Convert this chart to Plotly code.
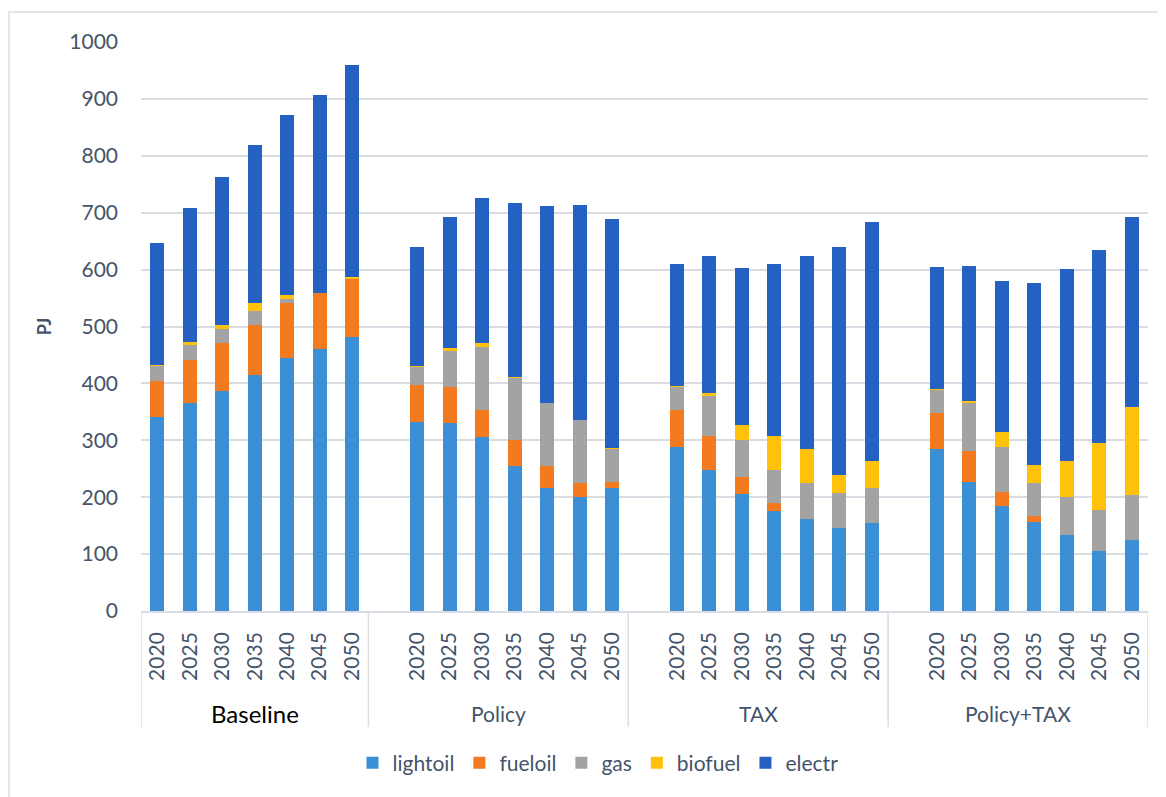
import plotly.graph_objects as go

scenarios = ["Baseline", "Policy", "TAX", "Policy+TAX"]
years = ["2020", "2025", "2030", "2035", "2040", "2045", "2050"]

# values (PJ) per scenario, per year
lightoil = {
    "Baseline":   [341, 366, 387, 414, 445, 460, 482],
    "Policy":     [333, 330, 306, 255, 217, 200, 217],
    "TAX":        [288, 248, 206, 176, 162, 146, 155],
    "Policy+TAX": [285, 227, 185, 157, 134, 105, 125],
}
fueloil = {
    "Baseline":   [64, 76, 84, 88, 96, 99, 102],
    "Policy":     [64, 64, 48, 46, 38, 25, 10],
    "TAX":        [66, 60, 30, 14, 0, 0, 0],
    "Policy+TAX": [63, 54, 25, 10, 0, 0, 0],
}
gas = {
    "Baseline":   [27, 26, 25, 25, 7, 0, 0],
    "Policy":     [32, 63, 110, 109, 111, 111, 58],
    "TAX":        [41, 70, 65, 58, 63, 62, 62],
    "Policy+TAX": [42, 85, 78, 58, 66, 73, 79],
}
biofuel = {
    "Baseline":   [1, 4, 7, 14, 8, 0, 3],
    "Policy":     [1, 6, 7, 2, 0, 0, 2],
    "TAX":        [1, 5, 26, 60, 60, 31, 46],
    "Policy+TAX": [1, 3, 27, 32, 63, 117, 155],
}
electr = {
    "Baseline":   [213, 237, 259, 278, 316, 347, 372],
    "Policy":     [210, 229, 255, 305, 346, 378, 402],
    "TAX":        [214, 241, 276, 302, 339, 401, 421],
    "Policy+TAX": [214, 237, 265, 320, 338, 339, 333],
}

series = [
    ("lightoil", lightoil, "#3b8fd5"),
    ("fueloil", fueloil, "#f47a1f"),
    ("gas", gas, "#a3a3a3"),
    ("biofuel", biofuel, "#ffc10a"),
    ("electr", electr, "#2461c2"),
]

# slot positions: every group after the first starts with one empty slot
positions, ticklabels = [], []
group_bounds = []  # (start, end) slot edges per group
pos = 0
for gi, sc in enumerate(scenarios):
    start = pos - 0.5
    if gi > 0:
        pos += 1
    for y in years:
        positions.append(pos)
        ticklabels.append(y)
        pos += 1
    group_bounds.append((start, pos - 0.5))

fig = go.Figure()
for name, d, col in series:
    vals = []
    for sc in scenarios:
        vals.extend(d[sc])
    fig.add_trace(go.Bar(x=positions, y=vals, name=name,
                         marker=dict(color=col, line=dict(width=0))))

font_family = "Lato, 'Open Sans', sans-serif"
txt = "#44546a"
line_col = "#d9dde3"

div_bottom = -0.204
label_y = -0.181

shapes = []
edges = sorted(set([b for gb in group_bounds for b in gb]))
for e in edges:
    shapes.append(dict(type="line", xref="x", yref="paper", x0=e, x1=e, y0=0, y1=div_bottom,
                       line=dict(color=line_col, width=1.5)))
# chart-area border
shapes.append(dict(type="rect", xref="paper", yref="paper", x0=-0.1311, x1=1.03, y0=-0.34, y1=1.0527,
                   line=dict(color=line_col, width=1.5), fillcolor="rgba(0,0,0,0)", layer="below"))

annotations = []
for sc, (a, b) in zip(scenarios, group_bounds):
    is_base = sc == "Baseline"
    annotations.append(dict(x=(a + b) / 2, y=label_y, xref="x", yref="paper", text=sc,
                            showarrow=False, xanchor="center", yanchor="middle",
                            font=dict(size=24 if is_base else 21, color="#000000" if is_base else txt,
                                      family=font_family)))

# the page places the figure 8px from the window's top-left corner
fig.update_layout(
    barmode="stack",
    bargap=0.57,
    width=1158, height=789,
    paper_bgcolor="white", plot_bgcolor="white",
    margin=dict(l=133, r=18, t=34, b=186),
    font=dict(family=font_family, color=txt, size=21),
    legend=dict(orientation="h", xref="container", yref="container", x=0.5095, y=0.043,
                xanchor="center", yanchor="middle", font=dict(size=21, color=txt),
                traceorder="normal", itemwidth=30),
    shapes=shapes,
    annotations=annotations,
)
fig.update_xaxes(
    range=[group_bounds[0][0], group_bounds[-1][1]],
    tickmode="array", tickvals=positions, ticktext=ticklabels,
    tickangle=-90,
    tickfont=dict(size=21, color=txt),
    ticklabelstandoff=11,
    showline=True, linecolor=line_col, linewidth=1.5,
    showgrid=False, zeroline=False, ticks="",
)
fig.update_yaxes(
    range=[0, 1000], dtick=100,
    showgrid=True, gridcolor=line_col, gridwidth=1.5,
    zeroline=False, showline=False,
    tickfont=dict(size=21, color=txt),
    ticklabelstandoff=22,
    title=dict(text="<b>PJ</b>", font=dict(size=18, color=txt), standoff=12),
)

fig.write_html("out.html")
